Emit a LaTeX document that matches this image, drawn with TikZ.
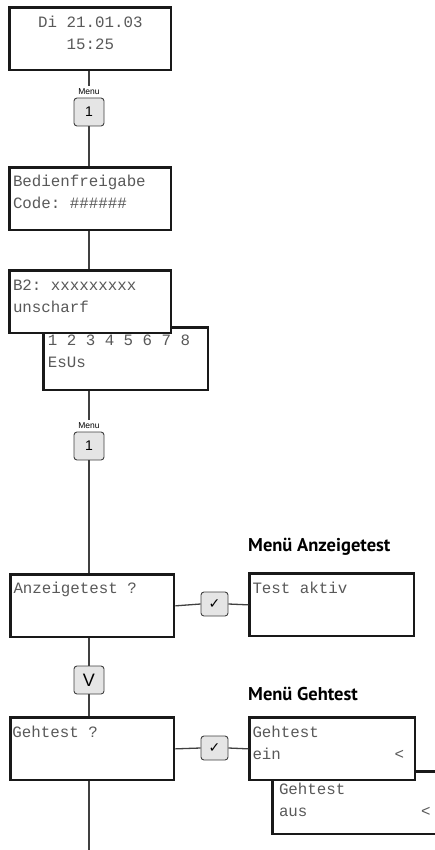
\documentclass[tikz,border=0pt]{standalone}
\usepackage{fontspec}
\setmainfont{Liberation Sans}
\setmonofont{Liberation Mono}
\newfontfamily\headfont{PT Sans}
\newfontfamily\symfont{DejaVu Sans}
\usetikzlibrary{positioning}

\begin{document}
\begin{tikzpicture}[x=1pt,y=-1pt,
		lcd/.style={draw=black!90, line width=2.6pt, fill=white, minimum width=161.5pt, minimum height=62.5pt, anchor=north west, inner sep=0pt},
		lcdtext/.style={anchor=base west, inner sep=0pt, align=left, text=black!65, font=\ttfamily\fontsize{15.8}{22}\selectfont},
		taste/.style={draw=black!75, line width=0.9pt, fill=black!10, rounded corners=3pt, minimum width=30pt, minimum height=28pt, inner sep=0pt, font=\fontsize{14}{14}\selectfont},
		okkey/.style={taste, minimum width=27pt, minimum height=24pt, font=\symfont\fontsize{14}{14}\selectfont},
		tastelabel/.style={inner sep=2pt, font=\fontsize{8.5}{9}\selectfont},
		heading/.style={anchor=base west, inner sep=0pt, font=\headfont\bfseries\fontsize{18.5}{20}\selectfont},
		wire/.style={draw=black!75, line width=1.3pt}]
		\newcommand{\lineX}{89}
		
		\useasboundingbox (0,0) rectangle (435,850);
		\clip (0,0) rectangle (435,850);
		
		% start display (two line texts sit on their last baseline)
		\node[lcd] (datum) at (8.3,6.3) {};
		\node[lcdtext, anchor=base, align=center] (datumT) at ([shift={(0,43.7)}]datum.north) {Di 21.01.03\\15:25};
		\node[taste] (menu1) at (\lineX,112) {1};
		\node[tastelabel, above=1pt of menu1] (menu1L) {Menu};
		
		\node[lcd] (frei) at (8.3,166.3) {};
		\node[lcdtext] (freiT) at ([shift={(4.5,42.7)}]frei.north west) {Bedienfreigabe\\Code: \#\#\#\#\#\#};
		
		% two stacked displays, back one first
		\node[lcd, minimum width=164.5pt] (esus) at (42.3,326.3) {};
		\node[lcdtext] (esusT) at ([shift={(5.4,41)}]esus.north west) {1 2 3 4 5 6 7 8\\EsUs};
		\node[lcd] (bzwei) at (8.3,269.3) {};
		\node[lcdtext] (bzweiT) at ([shift={(4.5,42.7)}]bzwei.north west) {B2: xxxxxxxxx\\unscharf};
		
		\node[taste] (menu2) at (\lineX,446) {1};
		\node[tastelabel, above=1pt of menu2] (menu2L) {Menu};
		
		% Anzeigetest
		\node[lcd, minimum width=163.4pt] (anz) at (9.3,573.3) {};
		\node[lcdtext] (anzT) at ([shift={(4,19.7)}]anz.north west) {Anzeigetest ?};
		\node[okkey] (ok1) at (214.5,604) {✓};
		\node[lcd, minimum width=164.4pt] (akt) at (248.3,572.3) {};
		\node[lcdtext] (aktT) at ([shift={(4,20.7)}]akt.north west) {Test aktiv};
		\node[heading] (hAnz) at (248,551) {Menü Anzeigetest};
		
		\node[taste, font=\fontsize{18}{18}\selectfont] (vkey) at (\lineX,680) {V};
		
		% Gehtest
		\node[lcd, minimum width=163.4pt] (geh) at (9.3,716.3) {};
		\node[lcdtext] (gehT) at ([shift={(3,20.7)}]geh.north west) {Gehtest ?};
		\node[okkey] (ok2) at (214.5,748) {✓};
		\node[lcd, minimum width=190pt] (aus) at (271.3,770.3) {};
		\node[lcdtext] (ausT) at ([shift={(7.5,45.7)}]aus.north west) {Gehtest\\aus\ \ \ \ \ \ \ \ \ \ \ \ <};
		\node[lcd, minimum width=165.4pt] (ein) at (248.3,716.3) {};
		\node[lcdtext] (einT) at ([shift={(4,42.7)}]ein.north west) {Gehtest\\ein\ \ \ \ \ \ \ \ \ \ \ \ <};
		\node[heading] (hGeh) at (248,700) {Menü Gehtest};
		\coordinate (ende) at (\lineX,850);
		
		% connectors
		\draw[wire] (menu1L.north |- datum.south) -- (menu1L.north);
		\draw[wire] (menu1.south) -- (menu1.south |- frei.north);
		\draw[wire] (\lineX,0 |- frei.south) -- (\lineX,0 |- bzwei.north);
		\draw[wire] (menu2L.north |- esus.south) -- (menu2L.north);
		\draw[wire] (menu2.south) -- (menu2.south |- anz.north);
		\draw[wire] (anz.east) -- (ok1.west);
		\draw[wire] (ok1.east) -- (akt.west);
		\draw[wire] (vkey.north |- anz.south) -- (vkey.north);
		\draw[wire] (vkey.south) -- (vkey.south |- geh.north);
		\draw[wire] (geh.east) -- (ok2.west);
		\draw[wire] (ok2.east) -- (ein.west);
		\draw[wire] (ende |- geh.south) -- (ende);
\end{tikzpicture}
\end{document}
